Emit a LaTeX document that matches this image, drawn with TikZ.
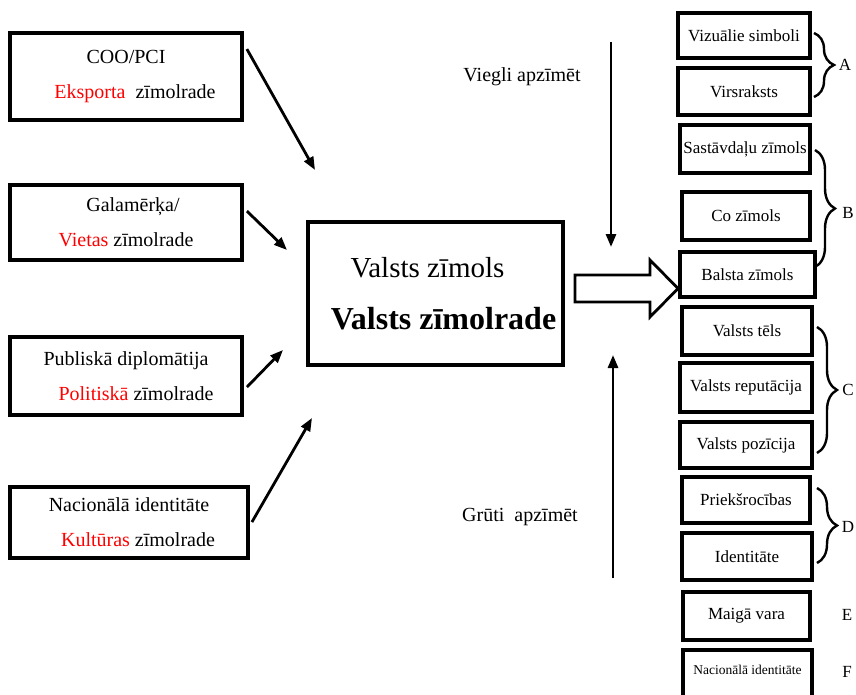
\documentclass[tikz,border=0pt]{standalone}
\usepackage{fontspec}
\setmainfont{Liberation Serif}
\usetikzlibrary{arrows.meta,decorations.pathreplacing,calc}
\begin{document}
\begin{tikzpicture}[x=1pt,y=-1pt,
  lbox/.style={draw, line width=3.8pt, align=center, inner sep=0pt, font=\fontsize{20}{35}\selectfont},
  rbox/.style={draw, line width=3.5pt, minimum width=130pt, inner sep=0pt, font=\fontsize{17}{20}\selectfont},
  arr/.style={line width=2.8pt, -{Triangle[length=13pt,width=10pt]}},
  brc/.style={decorate, decoration={brace, amplitude=20pt}, line width=2.4pt},
  lbl/.style={font=\fontsize{17}{20}\selectfont},
  side/.style={font=\fontsize{20}{22}\selectfont},
]
\useasboundingbox (0,0) rectangle (856,695);
\fill[white] (0,0) rectangle (856,695);

% left boxes
\node[lbox, minimum width=232pt, minimum height=87pt] (coo) at (126,76.5)
  {COO/PCI\\\hspace*{18pt}\textcolor{red}{Eksporta}\ \ zīmolrade};
\node[lbox, minimum width=232pt, minimum height=75pt] (gal) at (126,222.5)
  {\hspace*{14pt}Galamērķa/\\\textcolor{red}{Vietas} zīmolrade};
\node[lbox, minimum width=232pt, minimum height=78pt] (pub) at (126,376)
  {Publiskā diplomātija\\\hspace*{20pt}\textcolor{red}{Politiskā} zīmolrade};
\node[lbox, minimum width=238pt, minimum height=71pt] (nac) at (129,522.5)
  {Nacionālā identitāte\\\hspace*{18pt}\textcolor{red}{Kultūras} zīmolrade};

% centre box
\node[draw, line width=3.8pt, minimum width=255pt, minimum height=143pt, align=center,
  inner sep=0pt, font=\fontsize{29}{52}\selectfont] (vz) at (435.5,293.5)
  {Valsts zīmols\hspace*{16pt}\\\hspace*{16pt}{\fontsize{32}{52}\selectfont\bfseries Valsts zīmolrade}};

% arrows from left boxes
\coordinate (e1) at (315,170);
\coordinate (e2) at (287,250);
\coordinate (e3) at (283,350);
\coordinate (e4) at (312,418);
\draw[arr] ($(coo.north east)+(3,18)$) -- (e1);
\draw[arr] ($(gal.north east)+(3,28)$) -- (e2);
\draw[arr] ($(pub.north east)+(3,52)$) -- (e3);
\draw[arr] ($(nac.north east)+(2,37)$) -- (e4);

% block arrow
\draw[line width=2.8pt, fill=white, line join=miter]
  (575,275) -- (650,275) -- (650,260) -- (678,288.5) -- (650,317) -- (650,302) -- (575,302) -- cycle;

% vertical arrows and labels
\coordinate (t1) at (611,42);
\coordinate (t2) at (611,247);
\coordinate (b1) at (613,578);
\coordinate (b2) at (613,355);
\draw[arr] (t1) -- (t2);
\draw[arr] (b1) -- (b2);
\node[side] (easy) at (522,77) {Viegli apzīmēt};
\node[side] (hard) at (520,517) {Grūti\ \ apzīmēt};

% right boxes
\node[rbox, minimum width=132pt, minimum height=45pt] (r1) at (744,35.5) {Vizuālie simboli};
\node[rbox, minimum width=132pt, minimum height=47pt] (r2) at (744,91.5) {Virsraksts};
\node[rbox, minimum width=130pt, minimum height=48pt] (r3) at (745,149) {Sastāvdaļu zīmols};
\node[rbox, minimum width=128pt, minimum height=48pt] (r4) at (746,216) {Co zīmols};
\node[rbox, minimum width=135pt, minimum height=45pt] (r5) at (747.5,274.5) {Balsta zīmols};
\node[rbox, minimum width=130pt, minimum height=48pt] (r6) at (747,331) {Valsts tēls};
\node[rbox, minimum width=132pt, minimum height=49pt] (r7) at (746,387.5) {Valsts reputācija};
\node[rbox, minimum width=132pt, minimum height=46pt] (r8) at (746,445) {Valsts pozīcija};
\node[rbox, minimum width=128pt, minimum height=46pt] (r9) at (746,500) {Priekšrocības};
\node[rbox, minimum width=130pt, minimum height=47pt] (r10) at (747,556.5) {Identitāte};
\node[rbox, minimum width=127pt, minimum height=48pt] (r11) at (746.5,616) {Maigā vara};
\node[rbox, minimum width=129pt, minimum height=56pt, anchor=north] (r12) at (747.5,648) {};
\node[font=\fontsize{13.5}{16}\selectfont] (r12t) at (747.5,670) {Nacionālā identitāte};

% braces and letters
\draw[brc] (814,33) -- (814,97);
\node[lbl] (la) at (845,65) {A};
\draw[brc] (815,150) -- (815,267);
\node[lbl] (lb) at (848,213) {B};
\draw[brc] (817,327) -- (817,453);
\node[lbl] (lc) at (848,390) {C};
\draw[brc] (817,488) -- (817,563);
\node[lbl] (ld) at (848,527) {D};
\node[lbl] (le) at (847,615) {E};
\node[lbl] (lf) at (847,672) {F};
\end{tikzpicture}
\end{document}
